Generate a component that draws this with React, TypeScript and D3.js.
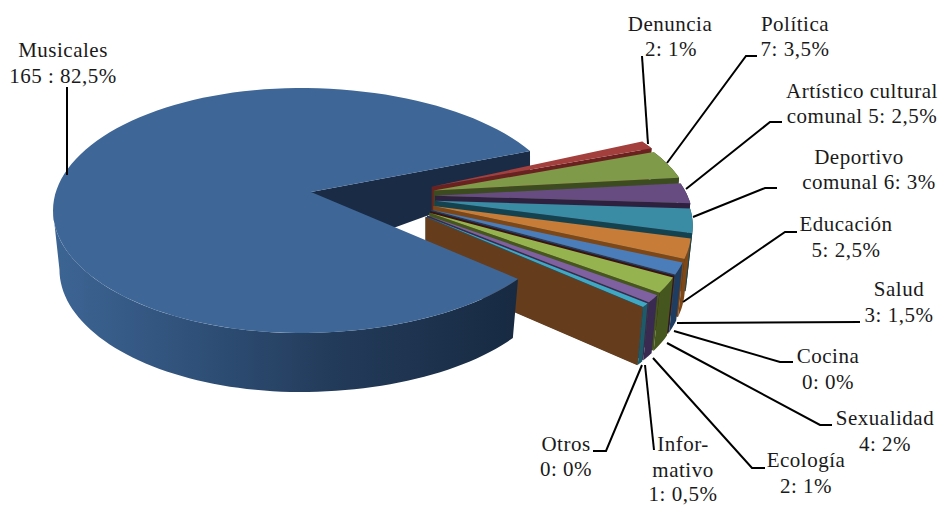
import React from "react";
import * as d3 from "d3";

const categories = ["Denuncia","Política","Artístico cultural comunal","Deportivo comunal","Educación","Salud","Cocina","Sexualidad","Ecología","Informativo","Otros"];
const counts = [2,7,5,6,5,3,0,4,2,1,0];
const mainCount = 165;
const topColors = ["#a33f3c","#7f9a48","#664c80","#3a8ca5","#c77c38","#4a7dba","#632523","#95b450","#7f61a2","#3fa8c2","#653c1c"];
const wallColors = ["#6a2220","#3c4c20","#2e2140","#14434f","#7d4718","#1f3d60","#3c1210","#46561f","#382a50","#1e5a68","#653c1c"];
const mainTop = "#3e6797";
const mainInner = "#1a2b45";

type Lbl = { lines: string[]; x: number[]; y: number[] };
const labels: Lbl[] = [
  { lines:["Musicales","165 : 82,5%"], x:[63,63], y:[57,83] },
  { lines:["Denuncia","2: 1%"], x:[670,671], y:[31,56] },
  { lines:["Política","7: 3,5%"], x:[795,795], y:[31,56] },
  { lines:["Artístico cultural","comunal 5: 2,5%"], x:[862,862], y:[98,123] },
  { lines:["Deportivo","comunal 6: 3%"], x:[859,869], y:[164,189] },
  { lines:["Educación","5: 2,5%"], x:[846,846], y:[231,257] },
  { lines:["Salud","3: 1,5%"], x:[899,899], y:[296,322] },
  { lines:["Cocina","0: 0%"], x:[828,828], y:[363,389] },
  { lines:["Sexualidad","4: 2%"], x:[885,885], y:[425,451] },
  { lines:["Ecología","2: 1%"], x:[806,806], y:[467,493] },
  { lines:["Otros","0: 0%"], x:[566,566], y:[451,476] },
  { lines:["Infor-","mativo","1: 0,5%"], x:[683,683,683], y:[451,477,501] },
];
const leaders: [number,number][][] = [
  [[67,87],[67,175]],
  [[642,56],[648,144]],
  [[757,56],[746,56],[667,163]],
  [[782,122],[770,122],[686,189]],
  [[777,188],[765,188],[693,217]],
  [[797,232],[785,232],[683,302]],
  [[860,322],[677,323]],
  [[793,362],[780,362],[674,331]],
  [[832,425],[820,425],[667,343]],
  [[765,468],[752,468],[653,358]],
  [[654,450],[645,365]],
  [[593,451],[606,451],[642,365]],
];

const rad = (d: number) => (d * Math.PI) / 180;
const line = d3.line<[number,number]>();
const steps = (a: number, b: number, n = 24) => d3.range(n + 1).map((i) => a + ((b - a) * i) / n);

// main slice projection
const total = mainCount + d3.sum(counts);
const mainSweep = (mainCount / total) * 360;
const mainStart = 34;
const mainEllipse = (t: number): [number,number] => {
  const c = Math.cos(rad(t)), s = Math.sin(rad(t));
  return [300 + (c < 0 ? 247 : 263) * c, 210.5 + 122.5 * s];
};
const mainDrop = ([x,y]: [number,number]): [number,number] => [311 + (x - 311) * 0.975, y + 59];
const mainApex: [number,number] = [311,192];
const mainArc = steps(mainStart, mainStart + mainSweep, 120);
const mainFace = line([mainApex, ...mainArc.map(mainEllipse)]) + "Z";
const wallTs = steps(mainStart, 180, 70);
const mainWall = line([...wallTs.map(mainEllipse), ...wallTs.slice().reverse().map((t) => mainDrop(mainEllipse(t)))]) + "Z";
const e1 = mainEllipse(mainStart + mainSweep);
const mainInnerPath = line([mainApex, e1, [e1[0], e1[1] + 27], [mainApex[0], mainApex[1] + 66]]) + "Z";

// exploded slices
const angle = d3.scaleLinear().domain([0, d3.sum(counts)]).range([-38, 35]);
const cum = d3.cumsum(counts);
const slices = counts.map((c, i) => {
  const t0 = angle(cum[i] - c), t1 = angle(cum[i]), tm = (t0 + t1) / 2;
  const cx = 402 + 33 * Math.cos(rad(tm + 10)), cy = 202 + 26 * Math.sin(rad(tm));
  const outer = (t: number): [number,number] => [cx + 33 + 225 * Math.cos(rad(t)), cy + 25 + 114 * Math.sin(rad(t))];
  const drop = ([x,y]: [number,number]): [number,number] => [430 + (x - 430) * 0.975, y + 58];
  const apex: [number,number] = [cx, cy];
  const ts = steps(t0, t1, 12);
  const arc = ts.map(outer);
  const end = outer(t1);
  return {
    face: line([apex, ...arc]) + "Z",
    outerWall: line([...arc, ...arc.slice().reverse().map(drop)]) + "Z",
    sideWall: line([apex, end, drop(end), [apex[0], apex[1] + 57]]) + "Z",
    top: topColors[i], wall: wallColors[i], key: categories[i],
  };
});

export default function App() {
  return (
    <svg width={940} height={505} style={{ position: "absolute", left: 0, top: 0, background: "#fff" }}>
      <defs>
        <linearGradient id="wallGrad" gradientUnits="userSpaceOnUse" x1={60} x2={515} y1={0} y2={0}>
          <stop offset="0" stopColor="#3c6493" />
          <stop offset="0.3" stopColor="#2f5078" />
          <stop offset="0.6" stopColor="#233b5a" />
          <stop offset="1" stopColor="#172a42" />
        </linearGradient>
      </defs>
      <path d={mainInnerPath} fill={mainInner} />
      {slices.map((s) => (
        <g key={s.key}>
          <path d={s.outerWall} fill={s.wall} />
          <path d={s.sideWall} fill={s.wall} />
          <path d={s.face} fill={s.top} />
        </g>
      ))}
      <path d={mainWall} fill="url(#wallGrad)" />
      <path d={mainFace} fill={mainTop} />
      {leaders.map((l, i) => (
        <path key={i} d={line(l)!} fill="none" stroke="#000" strokeWidth={2} />
      ))}
      {labels.map((l) =>
        l.lines.map((t, j) => (
          <text key={t} x={l.x[j]} y={l.y[j]} textAnchor="middle" fontFamily="'Liberation Serif'" fontSize={21} letterSpacing={0.5} fill="#1a1a1a">
            {t}
          </text>
        ))
      )}
    </svg>
  );
}
